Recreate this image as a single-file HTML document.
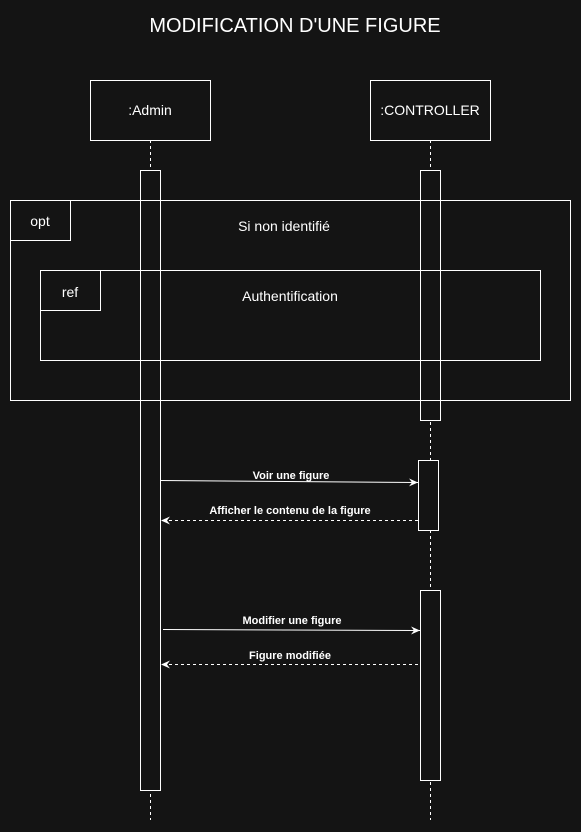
<!DOCTYPE html>
<html><head><style>body{margin:0;background:#141414}</style></head><body>
<svg width="581" height="832" xmlns="http://www.w3.org/2000/svg" style="display:block;font-family:'Liberation Sans',Arial,sans-serif">
<rect width="581" height="832" fill="#141414"/>
<defs><marker id="a" markerWidth="10" markerHeight="8" refX="9" refY="4" orient="auto" markerUnits="userSpaceOnUse"><path d="M0,0 L9,4 L0,8 L3,4 Z" fill="#fff"/></marker></defs>
<text x="295" y="32" fill="#fff" font-size="20" text-anchor="middle">MODIFICATION D'UNE FIGURE</text>
<g stroke="#fff" fill="#141414">
<rect x="90.5" y="80.5" width="120" height="60"/>
<rect x="370.5" y="80.5" width="120" height="60"/>
<line x1="150.5" y1="140" x2="150.5" y2="820" stroke-dasharray="3,3"/>
<line x1="430.5" y1="140" x2="430.5" y2="820" stroke-dasharray="3,3"/>
<rect x="140.5" y="170.5" width="20" height="620"/>
<rect x="420.5" y="170.5" width="20" height="250"/>
<rect x="418.5" y="460.5" width="20" height="70"/>
<rect x="420.5" y="590.5" width="20" height="190"/>
<rect x="10.5" y="200.5" width="560" height="200" fill="none"/>
<rect x="10.5" y="200.5" width="60" height="40" fill="none"/>
<rect x="40.5" y="270.5" width="500" height="90" fill="none"/>
<rect x="40.5" y="270.5" width="60" height="40" fill="none"/>
<line x1="160" y1="480.5" x2="418" y2="482.5" marker-end="url(#a)"/>
<line x1="418" y1="520.5" x2="161" y2="520.5" stroke-dasharray="3,3" marker-end="url(#a)"/>
<line x1="163" y1="629.5" x2="420" y2="630.5" marker-end="url(#a)"/>
<line x1="418" y1="664.5" x2="161" y2="664.5" stroke-dasharray="3,3" marker-end="url(#a)"/>
</g>
<g fill="#fff" font-size="14" text-anchor="middle">
<text x="150" y="115">:Admin</text>
<text x="430" y="115">:CONTROLLER</text>
<text x="40" y="226">opt</text>
<text x="284" y="231">Si non identifié</text>
<text x="70" y="297">ref</text>
<text x="290" y="301">Authentification</text>
</g>
<g fill="#fff" font-size="11" font-weight="bold" text-anchor="middle">
<text x="291" y="479">Voir une figure</text>
<text x="290" y="514">Afficher le contenu de la figure</text>
<text x="292" y="624">Modifier une figure</text>
<text x="290" y="659">Figure modifiée</text>
</g>
</svg>
</body></html>
